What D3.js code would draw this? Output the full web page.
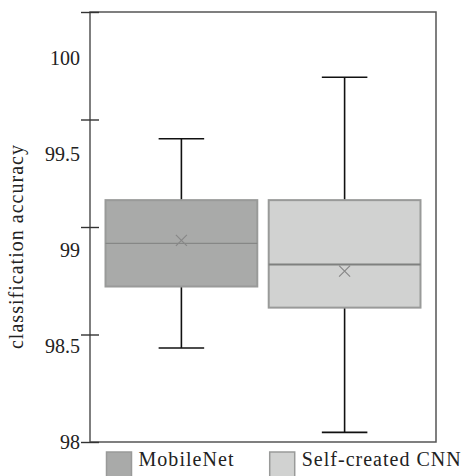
<!DOCTYPE html>
<html>
<head>
<meta charset="utf-8">
<script src="https://cdn.jsdelivr.net/npm/d3@7"></script>
<style>
  body { margin: 0; background: #fff; }
  text { font-family: "Liberation Serif", "DejaVu Serif", serif; fill: #222; }
</style>
</head>
<body>
<script>
var models = ["MobileNet", "Self-created CNN"]
var whiskerLow  = [98.49, 98.05]
var quartile1   = [98.81, 98.70]
var medians     = [99.035, 98.925]
var quartile3   = [99.26, 99.26]
var whiskerHigh = [99.58, 99.90]
var means       = [99.05, 98.89]
var labelTicks  = [98, 98.5, 99, 99.5, 100]
var markTicks   = [98, 98.56, 99.12, 99.68, 100.24]

var fills   = ["#a9aaa9", "#d1d2d1"]
var medianW = [1, 2]
var legendLen = [95, 159]

var W = 463, H = 476
var m = {top: 12, left: 90, right: 27, bottom: 34}
var w = W - m.left - m.right, h = H - m.top - m.bottom

var svg = d3.select("body").append("svg")
    .attr("width", W).attr("height", H)
  .append("g")
    .attr("transform", "translate(" + m.left + "," + m.top + ")")

var x = d3.scaleBand().domain(models).range([0, w])
    .paddingInner(0.07).paddingOuter(0.095)
var y = d3.scaleLinear().domain([98, 100.24]).range([h, 0])

var boxes = models.map(function(name, i){
  return {name: name, lo: whiskerLow[i], q1: quartile1[i], med: medians[i],
          q3: quartile3[i], hi: whiskerHigh[i], mean: means[i], fill: fills[i],
          mw: medianW[i], len: legendLen[i]}
})

// frame
svg.append("rect")
    .attr("width", w).attr("height", h)
    .attr("fill", "none").attr("stroke", "#555").attr("stroke-width", 1.5)

// labels and tick marks are out of step, as in the original
svg.append("g")
    .call(d3.axisLeft(y).tickValues(labelTicks).tickSize(0).tickPadding(10)
      .tickFormat(d3.format("")))
    .call(function(g){ g.select(".domain").remove() })
    .selectAll("text").style("font-size", "20px").style("font-family", "Liberation Serif").attr("fill", "#222")

svg.append("g")
    .attr("transform", "translate(9,0)")
    .call(d3.axisLeft(y).tickValues(markTicks).tickSize(18).tickFormat(""))
    .call(function(g){ g.select(".domain").remove() })
    .selectAll("line").attr("stroke", "#333").attr("stroke-width", 1.4)

svg.append("text")
    .attr("transform", "translate(-67," + (y(99) - 3) + ") rotate(-90)")
    .attr("text-anchor", "middle")
    .attr("textLength", 204).attr("lengthAdjust", "spacing")
    .style("font-size", "20px")
    .text("classification accuracy")

var g = svg.selectAll(".box").data(boxes).enter().append("g").attr("class", "box")

var cx = function(d){ return x(d.name) + x.bandwidth() / 2 }
var capW = x.bandwidth() * 0.3

// whiskers
g.append("line")
    .attr("x1", cx).attr("x2", cx)
    .attr("y1", function(d){ return y(d.q3) }).attr("y2", function(d){ return y(d.hi) })
    .attr("stroke", "#111").attr("stroke-width", 1.6)
g.append("line")
    .attr("x1", cx).attr("x2", cx)
    .attr("y1", function(d){ return y(d.q1) }).attr("y2", function(d){ return y(d.lo) })
    .attr("stroke", "#111").attr("stroke-width", 1.6)
g.append("line")
    .attr("x1", function(d){ return cx(d) - capW / 2 }).attr("x2", function(d){ return cx(d) + capW / 2 })
    .attr("y1", function(d){ return y(d.hi) }).attr("y2", function(d){ return y(d.hi) })
    .attr("stroke", "#111").attr("stroke-width", 1.6)
g.append("line")
    .attr("x1", function(d){ return cx(d) - capW / 2 }).attr("x2", function(d){ return cx(d) + capW / 2 })
    .attr("y1", function(d){ return y(d.lo) }).attr("y2", function(d){ return y(d.lo) })
    .attr("stroke", "#111").attr("stroke-width", 1.6)

// boxes
g.append("rect")
    .attr("x", function(d){ return x(d.name) })
    .attr("width", x.bandwidth())
    .attr("y", function(d){ return y(d.q3) })
    .attr("height", function(d){ return y(d.q1) - y(d.q3) })
    .attr("fill", function(d){ return d.fill })
    .attr("stroke", "#999a99").attr("stroke-width", 2)

g.append("line")
    .attr("x1", function(d){ return x(d.name) }).attr("x2", function(d){ return x(d.name) + x.bandwidth() })
    .attr("y1", function(d){ return y(d.med) }).attr("y2", function(d){ return y(d.med) })
    .attr("stroke", "#7f807f").attr("stroke-width", function(d){ return d.mw })

// mean marker
g.append("path")
    .attr("d", function(d){
      var px = cx(d), py = y(d.mean), r = 5.5
      return "M" + (px - r) + "," + (py - r) + "L" + (px + r) + "," + (py + r) +
             "M" + (px - r) + "," + (py + r) + "L" + (px + r) + "," + (py - r)
    })
    .attr("stroke", "#888").attr("stroke-width", 1.2).attr("fill", "none")

// legend
var leg = svg.selectAll(".leg").data(boxes).enter().append("g")
    .attr("class", "leg")
    .attr("transform", function(d){ return "translate(" + (x(d.name) + 1) + "," + (h + 10) + ")" })

leg.append("rect")
    .attr("width", 25).attr("height", 25)
    .attr("fill", function(d){ return d.fill })
    .attr("stroke", "#999a99").attr("stroke-width", 1.5)

leg.append("text")
    .attr("x", 32).attr("y", 14)
    .attr("textLength", function(d){ return d.len }).attr("lengthAdjust", "spacing")
    .style("font-size", "20px")
    .text(function(d){ return d.name })
</script>
</body>
</html>
